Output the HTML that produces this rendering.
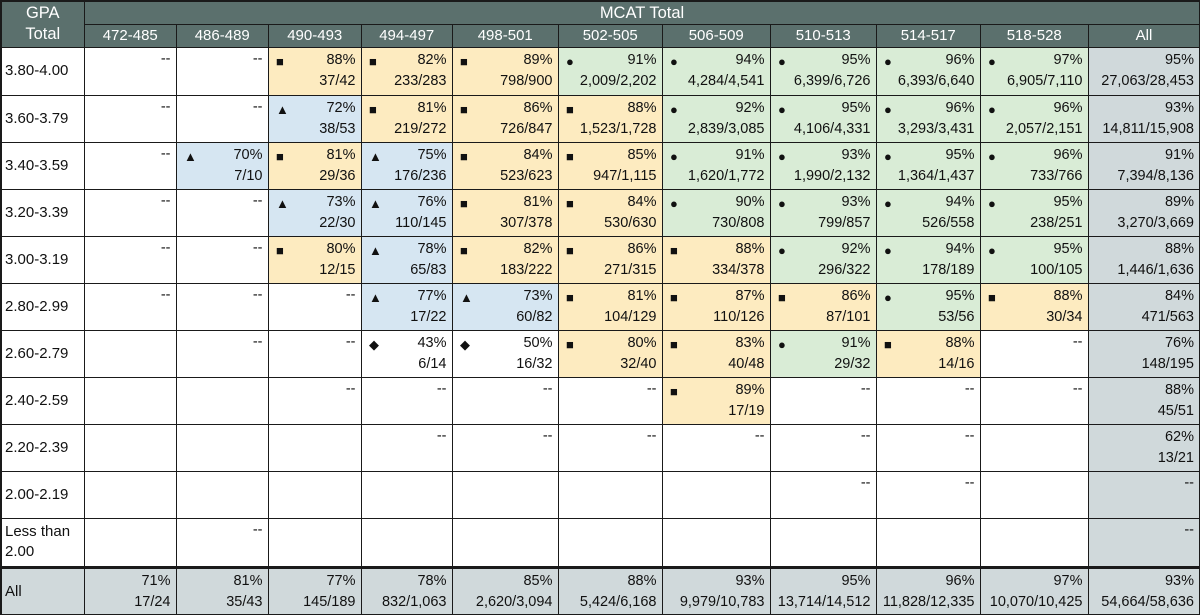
<!DOCTYPE html>
<html><head><meta charset="utf-8">
<style>
body{margin:0;width:1200px;height:615px;background:#fff;font-family:"Liberation Sans",sans-serif;overflow:hidden}
#t{position:absolute;left:0;top:0;width:1200px;height:615px;background:#1a1a1a}
.c{position:absolute;box-sizing:border-box;font-size:14.5px;color:#111;line-height:21px}
.h{background:#5b706d;color:#fff;text-align:center;font-size:16px}
.p{position:absolute;right:5px;text-align:right}
.m{position:absolute;left:7px;top:3px;font-size:13px}
</style></head><body>
<div id="t"></div>
<script>
const colEdges=[0,84,176,268,361,452,558,662,770,876,980,1088,1200];
const rowEdges=[47,95,142,189,236,283,330,377,424,471,518,566,615];
const mcatBins=["472-485","486-489","490-493","494-497","498-501","502-505","506-509","510-513","514-517","518-528","All"];
const gpaBins=["3.80-4.00","3.60-3.79","3.40-3.59","3.20-3.39","3.00-3.19","2.80-2.99","2.60-2.79","2.40-2.59","2.20-2.39","2.00-2.19","Less than<br>2.00","All"];
const cells=[
["--","--","s|88%|37/42","s|82%|233/283","s|89%|798/900","c|91%|2,009/2,202","c|94%|4,284/4,541","c|95%|6,399/6,726","c|96%|6,393/6,640","c|97%|6,905/7,110","a|95%|27,063/28,453"],
["--","--","t|72%|38/53","s|81%|219/272","s|86%|726/847","s|88%|1,523/1,728","c|92%|2,839/3,085","c|95%|4,106/4,331","c|96%|3,293/3,431","c|96%|2,057/2,151","a|93%|14,811/15,908"],
["--","t|70%|7/10","s|81%|29/36","t|75%|176/236","s|84%|523/623","s|85%|947/1,115","c|91%|1,620/1,772","c|93%|1,990/2,132","c|95%|1,364/1,437","c|96%|733/766","a|91%|7,394/8,136"],
["--","--","t|73%|22/30","t|76%|110/145","s|81%|307/378","s|84%|530/630","c|90%|730/808","c|93%|799/857","c|94%|526/558","c|95%|238/251","a|89%|3,270/3,669"],
["--","--","s|80%|12/15","t|78%|65/83","s|82%|183/222","s|86%|271/315","s|88%|334/378","c|92%|296/322","c|94%|178/189","c|95%|100/105","a|88%|1,446/1,636"],
["--","--","--","t|77%|17/22","t|73%|60/82","s|81%|104/129","s|87%|110/126","s|86%|87/101","c|95%|53/56","s|88%|30/34","a|84%|471/563"],
["","--","--","d|43%|6/14","d|50%|16/32","s|80%|32/40","s|83%|40/48","c|91%|29/32","s|88%|14/16","--","a|76%|148/195"],
["","","--","--","--","--","s|89%|17/19","--","--","--","a|88%|45/51"],
["","","","--","--","--","--","--","--","","a|62%|13/21"],
["","","","","","","","--","--","","a--"],
["","--","","","","","","","","","a--"],
["a|71%|17/24","a|81%|35/43","a|77%|145/189","a|78%|832/1,063","a|85%|2,620/3,094","a|88%|5,424/6,168","a|93%|9,979/10,783","a|95%|13,714/14,512","a|96%|11,828/12,335","a|97%|10,070/10,425","a|93%|54,664/58,636"]
];
const bg={s:"#fdebc0",t:"#d6e6f2",c:"#d9ecd6",d:"#fff",a:"#d0d9db"};
const glyph={s:"■",t:"▲",c:"●",d:"◆",a:""};
const T=document.getElementById('t');
function box(x0,y0,x1,y1,cls,color){const e=document.createElement('div');e.className='c '+cls;
const r=(x1>=1200)?2:1.5, b=(y1>=615)?2:1.5;
e.style.left=(x0+(x0==0?2:1))+'px';e.style.top=(y0+(y0==0?2:1))+'px';e.style.width=(x1-x0-r-(x0==0?1:0))+'px';e.style.height=(y1-y0-b-(y0==0?1:0))+'px';
if(color)e.style.background=color;T.appendChild(e);return e;}
let e=box(0,0,colEdges[1],47,'h');e.innerHTML='<div style="line-height:21px;padding-top:1px">GPA<br>Total</div>';e.style.fontSize='16.5px';


e=box(colEdges[1],0,1200,24,'h');e.textContent='MCAT Total';e.style.lineHeight='22px';e.style.fontSize='16.5px';


mcatBins.forEach((b,i)=>{const h=box(colEdges[i+1],24,colEdges[i+2],47,'h');h.textContent=b;h.style.fontSize='15px';
h.style.lineHeight='22px';

});
gpaBins.forEach((g,r)=>{const y0=rowEdges[r]+(r==11?1.5:0),y1=rowEdges[r+1];
const l=box(0,y0,colEdges[1],y1,'',r==11?bg.a:'#fff');
l.innerHTML=g;l.style.paddingLeft='3px';l.style.fontSize='15px';
l.style.paddingTop=g.includes('<br>')?'3px':'12px';l.style.lineHeight=g.includes('<br>')?'20px':'22px';


cells[r].forEach((v,ci)=>{let type=v[0]==='a'?'a':(v.includes('|')?v[0]:'');
const c=box(colEdges[ci+1],y0,colEdges[ci+2],y1,'',(ci==10||r==11)?bg.a:(type?bg[type]:'#fff'));


const parts=v.split('|');
if(parts.length===3){
if(glyph[parts[0]]){const m=document.createElement('div');m.className='m';m.textContent=glyph[parts[0]];


c.appendChild(m);}
const p=document.createElement('div');p.className='p';p.style.top='2px';p.innerHTML=parts[1]+'<br>'+parts[2];c.appendChild(p);
}else if(v.includes('--')){const p=document.createElement('div');p.className='p';p.style.top='1px';p.textContent='--';c.appendChild(p);}
});});
</script>
</body></html>
